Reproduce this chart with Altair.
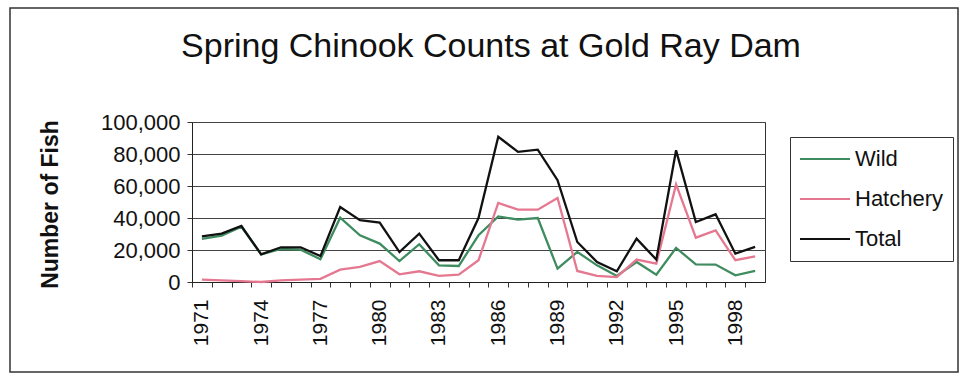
import altair as alt
import pandas as pd

years = list(range(1971, 2000))
wild = [27000, 29000, 34500, 17300, 20700, 20200, 14200, 40200, 29200, 24000,
        13100, 23600, 10400, 10000, 29200, 41000, 39000, 40000, 8400, 18800,
        10400, 3800, 12500, 4600, 21300, 11000, 10900, 4200, 6900]
hatchery = [1500, 1000, 500, 0, 1000, 1500, 2000, 7700, 9400, 13100,
            4800, 6700, 3800, 4600, 13600, 49400, 45200, 45200, 52500, 6900,
            3800, 3100, 14000, 11500, 61000, 27700, 32300, 13600, 16000]
total = [28500, 30200, 35000, 17300, 21700, 21700, 16200, 46900, 38600, 37100,
         18700, 30200, 13600, 13600, 40000, 90800, 81300, 82700, 63600, 25000,
         12500, 6700, 27100, 14000, 82300, 37500, 42300, 17700, 21900]
series_names = ["Wild", "Hatchery", "Total"]
series_colors = ["#3f8c60", "#e57890", "#111111"]
y_ticks = [0, 20000, 40000, 60000, 80000, 100000]
chart_title = ["Spring Chinook Counts at Gold Ray Dam"]

rows = []
for name, vals in zip(series_names, [wild, hatchery, total]):
    for yr, v in zip(years, vals):
        rows.append({"Year": yr, "Fish": v, "Series": name, "order": series_names.index(name)})
df = pd.DataFrame(rows)

W, H = 573, 160
LEFT, TOP = 192, 122
half = W / len(years) / 2

lines = alt.Chart(df).mark_line(strokeWidth=2.3).encode(
    x=alt.X("Year:Q",
            scale=alt.Scale(domain=[years[0] - 0.5, years[-1] + 0.5], nice=False, zero=False),
            axis=alt.Axis(values=years, format="d",
                          labelExpr="(datum.value - 1971) % 3 == 0 ? datum.label : ''",
                          labelAngle=270, labelAlign="right", labelBaseline="middle",
                          labelFontSize=21, labelPadding=12, labelColor="#111",
                          tickOffset=-half, labelOffset=half, tickSize=5,
                          tickColor="#333", domainColor="#222", grid=False,
                          title=None, labelFlush=False, labelOverlap=False)),
    y=alt.Y("Fish:Q",
            scale=alt.Scale(domain=[0, 100000], nice=False),
            axis=alt.Axis(values=y_ticks, format=",d", labelFontSize=22, labelColor="#111",
                          labelPadding=7, tickSize=5, tickColor="#333", domainColor="#222",
                          gridColor="#444", gridWidth=1,
                          title="Number of Fish", titleFontSize=23, titleFontWeight="bold",
                          titleColor="#111", titleX=-142, titleY=H / 2 + 2, titleAngle=270,
                          titleAlign="center", titleBaseline="middle")),
    color=alt.Color("Series:N",
                    scale=alt.Scale(domain=series_names, range=series_colors),
                    legend=alt.Legend(title=None, orient="none", legendX=598, legendY=15,
                                      strokeColor="#333", padding=9, fillColor="white",
                                      labelFontSize=22, labelColor="#111",
                                      symbolType="stroke", symbolSize=2500,
                                      symbolStrokeWidth=1.8, rowPadding=14, labelOffset=4,
                                      clipHeight=26, labelLimit=200)),
    order=alt.Order("order:Q"),
    detail="Series:N",
)

border = alt.Chart(pd.DataFrame({"a": [0]})).mark_rect(
    fill=None, stroke="#333", strokeWidth=1.5
).encode(
    x=alt.value(10 - LEFT), x2=alt.value(958 - LEFT),
    y=alt.value(8 - TOP), y2=alt.value(372 - TOP),
)

title = alt.Chart(pd.DataFrame({"t": chart_title})).mark_text(
    fontSize=34, font="Liberation Sans", color="#111", align="center", baseline="alphabetic"
).encode(text="t:N", x=alt.value(491 - LEFT), y=alt.value(57 - TOP))

chart = alt.layer(border, title, lines).properties(
    width=W, height=H,
    autosize=alt.AutoSizeParams(type="none"),
    padding={"left": LEFT, "top": TOP, "right": 966 - LEFT - W, "bottom": 383 - TOP - H},
).configure(font="Liberation Sans").configure_view(stroke="#333", strokeWidth=1)

chart.save("out.html", embed_options={"renderer": "svg", "actions": False})
